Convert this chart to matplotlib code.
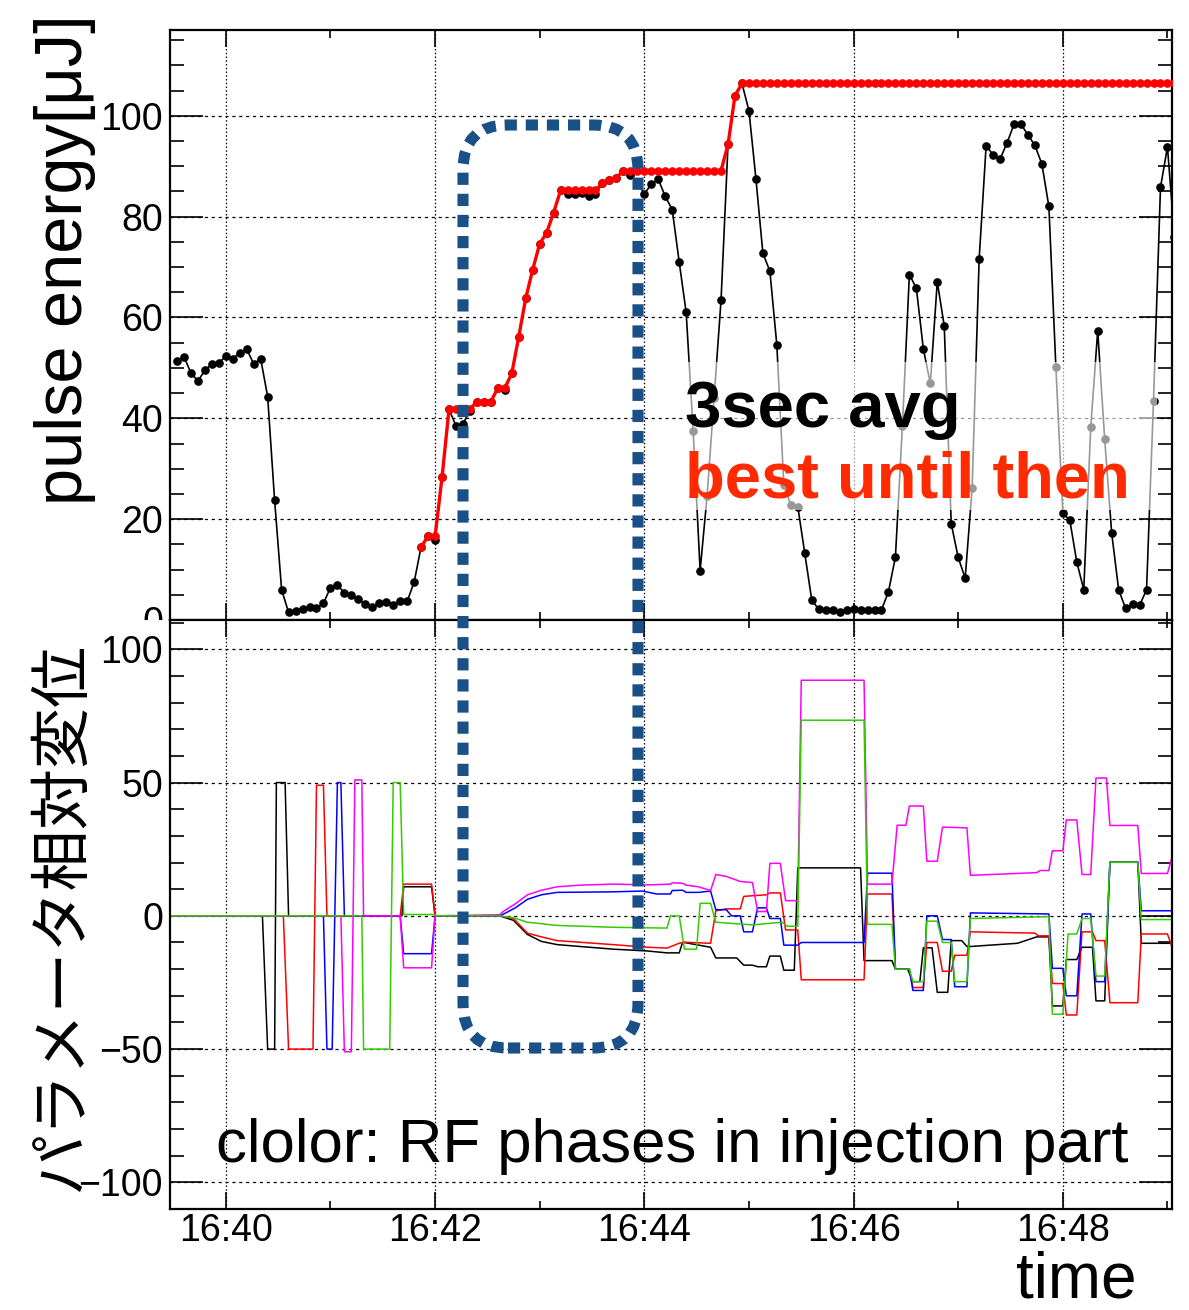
import numpy as np
import matplotlib
matplotlib.use('Agg')
import matplotlib.pyplot as plt
from matplotlib.patches import FancyBboxPatch, Rectangle
from matplotlib.ticker import MultipleLocator

plt.rcParams['font.family'] = ['Liberation Sans', 'DejaVu Sans']

# ---- data: seconds after 16:40:00 ----
# 3 sec averaged pulse energy, one point every 4 s from -28 s to 544 s
t_avg = np.arange(-28, 545, 4)
avg_energy = [51.4, 52.2, 49.0, 47.4, 49.5, 50.8, 51.0, 52.3, 51.8, 53.0, 53.7, 50.8,
              51.8, 44.3, 23.7, 6.0, 1.5, 1.8, 2.2, 2.5, 2.3, 3.3, 6.4, 6.9,
              5.4, 5.0, 4.2, 3.1, 2.5, 3.3, 3.5, 2.9, 3.8, 3.7, 7.5, 14.5,
              16.6, 15.8, 28.3, 41.8, 38.5, 38.9, 41.5, 43.3, 43.3, 43.3, 46.0, 45.7,
              48.9, 56.2, 63.8, 69.5, 74.6, 76.8, 80.8, 85.2, 84.5, 84.5, 84.6, 84.0,
              84.5, 86.6, 87.2, 87.7, 89.1, 88.3, 86.8, 84.5, 86.4, 87.4, 84.0, 81.4,
              71.0, 61.0, 37.5, 9.8, 24.6, 44.0, 63.4, 94.3, 104.0, 106.4, 101.0, 87.5,
              72.7, 69.2, 54.5, 26.8, 22.8, 22.5, 13.3, 4.0, 2.1, 2.0, 2.0, 1.5,
              2.0, 2.2, 2.0, 2.0, 2.0, 2.0, 5.6, 12.5, 38.5, 68.5, 65.8, 53.8,
              46.9, 67.1, 58.3, 19.1, 12.4, 8.3, 26.2, 71.5, 94.0, 92.3, 91.4, 94.6,
              98.3, 98.3, 96.2, 94.1, 90.4, 82.0, 50.2, 21.2, 19.8, 11.5, 6.0, 38.2,
              57.4, 35.8, 17.3, 6.0, 2.3, 3.1, 2.9, 6.0, 43.5, 85.8, 93.8, 76.0]

# best value reached so far, starting when the scan began (112 s)
t_best = t_avg[t_avg >= 112]
best_energy = ([14.5, 16.6, 16.6, 28.3, 41.8, 41.8, 41.8, 41.8, 43.3, 43.3, 43.3,
                46.0, 46.0, 48.9, 56.2, 63.8, 69.5, 74.6, 76.8, 80.8, 85.2]
               + [85.2] * 5 + [86.6, 87.2, 87.7] + [89.1] * 15
               + [94.3, 104.0] + [106.4] * 63)

# relative change of RF phases (injection part)
ph_black_t = [-32, 21, 24, 28, 29, 34, 36, 101, 102, 118, 120, 157, 165, 173, 181, 190,
              222, 242, 253, 260, 262, 278, 281, 293, 297, 302, 305, 310, 312, 318, 320,
              326, 328, 364, 366, 382, 384, 391, 394, 398, 400, 405, 408, 414, 416, 422,
              425, 427, 454, 465, 472, 474, 480, 482, 488, 491, 497, 499, 504, 507, 523,
              525, 543]
ph_black = [0, 0, -50, -50, 50, 50, 0, 0, 10.9, 10.9, 0, 0, -1.7, -7, -9.6, -10.8,
            -12.5, -13.2, -13.9, -13.9, -9.9, -11.8, -15.8, -15.8, -18.5, -18.5, -19.1,
            -19.1, -15.1, -15.1, -20.4, -20.4, 18, 18, -16.8, -16.8, -20, -20, -24.7,
            -24.7, -12, -12, -28.7, -28.7, -9.3, -9.3, -11.5, -11.5, -10.3, -7.9, -7.9,
            -33.8, -33.8, -16.4, -16.4, -11.8, -11.8, -31.9, -31.9, 20.1, 20.1, -10.3, -10.3]

ph_red_t = [-32, 33, 36, 50, 52, 56, 58, 100, 102, 118, 120, 157, 165, 167, 173, 181, 190,
            222, 242, 253, 260, 263, 278, 281, 287, 295, 297, 310, 312, 318, 321, 328, 330,
            366, 368, 382, 384, 392, 394, 400, 402, 408, 411, 416, 418, 425, 427, 464, 466,
            472, 474, 480, 482, 488, 491, 497, 499, 504, 507, 523, 525, 540, 543]
ph_red = [0, 0, -50, -50, 49, 49, 0, 0, 11.9, 11.9, 0, 0, -1, -2.4, -6.5, -7.9, -9.3,
          -10.8, -11.8, -12.1, -10.3, -9.9, -10.3, 1.9, 2.6, 2.6, 7.3, 7.9, 8.6, 8.6, -5.3,
          -5.3, -24, -24, 8.2, 8.2, -20, -20, -26.9, -26.9, -10, -10, -20.8, -20.8, -14.8,
          -14.8, -6, -6.5, -7.5, -7.5, -25.4, -25.4, -37.2, -37.2, -6, -6, -9.3, -9.3,
          -32.6, -32.6, -6.8, -6.8, -12.5]

ph_blue_t = [-32, 56, 58, 61, 64, 66, 68, 100, 102, 118, 120, 157, 160, 166, 173, 181, 190,
             222, 239, 247, 255, 256, 262, 264, 271, 278, 281, 287, 290, 295, 297, 302, 305,
             310, 312, 318, 320, 328, 330, 366, 368, 382, 384, 392, 394, 400, 402, 408, 411,
             416, 418, 425, 427, 472, 474, 480, 482, 488, 491, 496, 499, 504, 507, 523, 525, 543]
ph_blue = [0, 0, -50, -50, 50, 50, 0, 0, -14.2, -14.2, 0, 0, 0.9, 3, 6.2, 7.9, 8.8, 9,
           9.3, 8.2, 8.2, 9.5, 9.6, 8.8, 8.8, 9.3, 2.3, 2.3, 0, 0, -6, -6, 3, 3, -1, -1,
           -11, -11, -10, -10, 16, 16, -20, -20, -28, -28, 0, 0, -8.9, -8.9, -26.6, -26.6,
           1.1, 0.7, -19.7, -19.7, -30, -30, 0.7, 0.7, -24.7, -24.7, 20.1, 20.1, 1.9, 1.9]

ph_magenta_t = [-32, 66, 68, 72, 74, 78, 79, 100, 102, 118, 120, 157, 159, 166, 173, 181,
                190, 203, 222, 242, 255, 256, 262, 264, 271, 278, 281, 287, 295, 302, 305,
                310, 312, 318, 321, 328, 330, 366, 368, 382, 385, 390, 392, 400, 402, 408,
                411, 425, 427, 465, 467, 472, 474, 480, 482, 488, 491, 496, 499, 505, 507,
                523, 525, 540, 543]
ph_magenta = [0, 0, -51, -51, 51, 51, 0, 0, -19.5, -19.5, 0, 0.4, 1.6, 4.5, 7.9, 9.6,
              10.9, 11.5, 11.9, 11.6, 11.9, 12.4, 12.2, 11.5, 10.9, 9.5, 15.5, 14.8, 12.9,
              12.5, 1.6, 1.6, 19.7, 19.7, 5.7, 5.7, 88.4, 88.4, 11.9, 11.9, 34, 34, 41.2,
              41.2, 20.5, 20.5, 33.3, 33, 15.2, 16.2, 17, 17, 24.4, 24.4, 36, 36, 15.5,
              15.5, 51.7, 51.7, 33.9, 33.9, 15.9, 15.9, 23]

ph_green_t = [-32, 78, 79, 94, 96, 100, 102, 119, 121, 157, 165, 173, 190, 222, 253, 255,
              260, 263, 270, 272, 278, 281, 302, 319, 322, 328, 330, 366, 368, 382, 384,
              392, 394, 400, 402, 408, 411, 416, 418, 425, 427, 472, 474, 480, 483, 488,
              491, 496, 499, 504, 507, 523, 525, 543]
ph_green = [0, 0, -50, -50, 50, 50, 0.5, 0.5, 0, 0, -0.7, -2.4, -3.6, -4.3, -4.6, 0, 0,
            -12.5, -12.5, 4.7, 4.7, -2.4, -3.4, -2.4, -3.9, -3.9, 73.4, 73.4, -3.2, -3.2,
            -20, -20, -24.7, -24.7, -2, -2, -10, -10, -24.7, -24.7, -1, -0.3, -36.9, -36.9,
            -6.8, -6.8, -1, -1, -22.6, -22.6, 20.1, 20.1, -1.4, -1.4]

time_ticks = [0, 120, 240, 360, 480]
time_labels = ['16:40', '16:42', '16:44', '16:46', '16:48']

# ---- layout (pixel based, 1189 x 1310) ----
W, H = 1189, 1310
fig = plt.figure(figsize=(W / 100, H / 100), dpi=100)


def px_rect(x0, y0, x1, y1):
    return [x0 / W, 1 - y1 / H, (x1 - x0) / W, (y1 - y0) / H]


ax1 = fig.add_axes(px_rect(170, 30, 1172, 620))
ax2 = fig.add_axes(px_rect(170, 620, 1172, 1209))

# top: pulse energy
ax1.plot(t_avg, avg_energy, color='black', lw=1.2, marker='o', ms=5.2, zorder=3)
ax1.plot(t_best, best_energy, color='#ff0000', lw=2.4, marker='o', ms=5.2, zorder=4)
ax1.set_ylim(0, 117)
ax1.yaxis.set_major_locator(MultipleLocator(20))
ax1.yaxis.set_minor_locator(MultipleLocator(5))

# semi transparent box behind the legend text
ax1.add_patch(Rectangle((685 / W, 1 - 510 / H), 472 / W, 148 / H, transform=fig.transFigure,
                        facecolor='white', edgecolor='none', alpha=0.6, zorder=6))

# bottom: phases
ax2.plot(ph_black_t, ph_black, color='black', lw=1.1)
ax2.plot(ph_red_t, ph_red, color='#ff0000', lw=1.1)
ax2.plot(ph_blue_t, ph_blue, color='#0000ff', lw=1.1)
ax2.plot(ph_magenta_t, ph_magenta, color='#ff00ff', lw=1.1)
ax2.plot(ph_green_t, ph_green, color='#33cc00', lw=1.1)
ax2.set_ylim(-110, 111)
ax2.yaxis.set_major_locator(MultipleLocator(50))
ax2.yaxis.set_minor_locator(MultipleLocator(10))

for ax in (ax1, ax2):
    ax.set_xlim(-32, 542.6)
    ax.set_xticks(time_ticks)
    ax.set_xticks([60, 180, 300, 420, 540], minor=True)
    ax.xaxis.grid(True, which='major', color='black', lw=0.9, linestyle=(0, (1.2, 1.8)))
    ax.yaxis.grid(True, which='major', color='black', lw=0.9, linestyle=(0, (2.5, 3)))
    ax.set_axisbelow(True)
    ax.tick_params(which='both', direction='in', top=True, right=True, width=1.2,
                   labelsize=27)
    ax.tick_params(axis='y', which='major', length=24, pad=5)
    ax.tick_params(axis='y', which='minor', length=10)
    ax.tick_params(axis='x', which='major', length=12, pad=3)
    ax.tick_params(axis='x', which='minor', length=6)
    for s in ax.spines.values():
        s.set_linewidth(1.6)

ax1.set_xticklabels([])
ax2.set_xticklabels(time_labels)

# bottom pad hides the lower half of the top panel's "0"
fig.add_artist(Rectangle((90 / W, 1 - 635 / H), 78 / W, 15 / H, transform=fig.transFigure,
                         facecolor='white', edgecolor='none', zorder=1))

# texts
fig.text(65 / W, 1 - 260 / H, 'pulse energy[μJ]', rotation=90, fontsize=48,
         ha='center', va='center')
fig.text(62 / W, 1 - 917 / H, 'パラメータ相対変位', rotation=90, fontsize=44,
         ha='center', va='center', family=['Noto Sans CJK JP', 'DejaVu Sans'])
fig.text(1137 / W, 1 - 1297 / H, 'time', fontsize=46, ha='right', va='baseline')
fig.text(685 / W, 1 - 427 / H, '3sec avg', fontsize=47, fontweight='bold',
         color='black', va='baseline', zorder=7)
fig.text(685 / W, 1 - 497 / H, 'best until then', fontsize=47, fontweight='bold',
         color='#ff2a00', va='baseline', zorder=7)
fig.text(216 / W, 1 - 1162 / H, 'clolor: RF phases in injection part', fontsize=44.5,
         va='baseline')

# dotted rounded frame around the scan region
box = FancyBboxPatch((4.63, (H - 1048) / 100), 1.75, (1048 - 125) / 100,
                     boxstyle='round,pad=0,rounding_size=0.45',
                     transform=fig.dpi_scale_trans, fill=False, edgecolor='#1a5088',
                     lw=8, linestyle=(0, (1.1, 0.8)), zorder=10)
fig.add_artist(box)

fig.savefig('out.png', dpi=100)
